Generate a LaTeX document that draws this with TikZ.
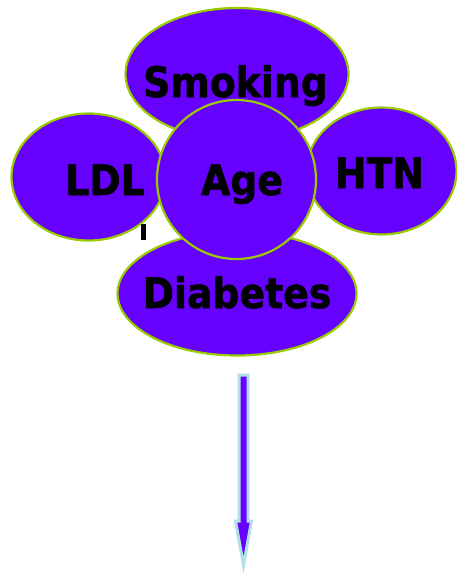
\documentclass[tikz,border=0pt]{standalone}
\usepackage{fontspec}
\newfontfamily\labelfont[BoldFeatures={FakeBold=1.2}]{DejaVu Sans Condensed}
\usetikzlibrary{shapes.geometric}
\definecolor{petal}{HTML}{6600FF}
\definecolor{rim}{HTML}{99CC00}
\definecolor{arrowrim}{HTML}{B0E0E6}
\tikzset{
  petalshape/.style={ellipse, fill=petal, draw=rim, line width=2.2pt, inner sep=0pt},
  petaltext/.style={anchor=base, inner sep=0pt, font=\labelfont\bfseries\fontsize{42}{44}\selectfont, text=black},
}
\begin{document}
\begin{tikzpicture}[x=1pt,y=-1pt]
\useasboundingbox (0,0) rectangle (457,573);
% petals
\node[petalshape, minimum width=223pt, minimum height=132pt] (smoking) at (237,74) {};
\node[petalshape, minimum width=154pt, minimum height=127pt] (ldl) at (88.5,177) {};
\node[petalshape, minimum width=150pt, minimum height=127pt] (htn) at (381.5,171) {};
\node[petalshape, minimum width=239pt, minimum height=124pt] (diabetes) at (237,293.5) {};
% stray mark
\fill[black] (141,224) rectangle (146,240);
% centre
\node[petalshape, circle, minimum size=159pt] (age) at (236.5,179.5) {};
% labels
\node[petaltext] (tsmoking) at (235.5,97) {Smoking};
\node[petaltext] (tldl) at (105,195) {LDL};
\node[petaltext] (thtn) at (379.5,188) {HTN};
\node[petaltext] (tage) at (242,195) {Age};
\node[petaltext] (tdiabetes) at (237,308) {Diabetes};
% arrow
\coordinate (arrtop) at (243.5,375);
\coordinate (arrtip) at (243.5,565);
\filldraw[fill=petal, draw=arrowrim, line width=3pt, line join=miter]
  ([xshift=-4.5pt]arrtop) -- ([xshift=4.5pt]arrtop) -- (248,521) -- (251.5,521)
  -- (arrtip) -- (235.5,521) -- (239,521) -- cycle;
\end{tikzpicture}
\end{document}
